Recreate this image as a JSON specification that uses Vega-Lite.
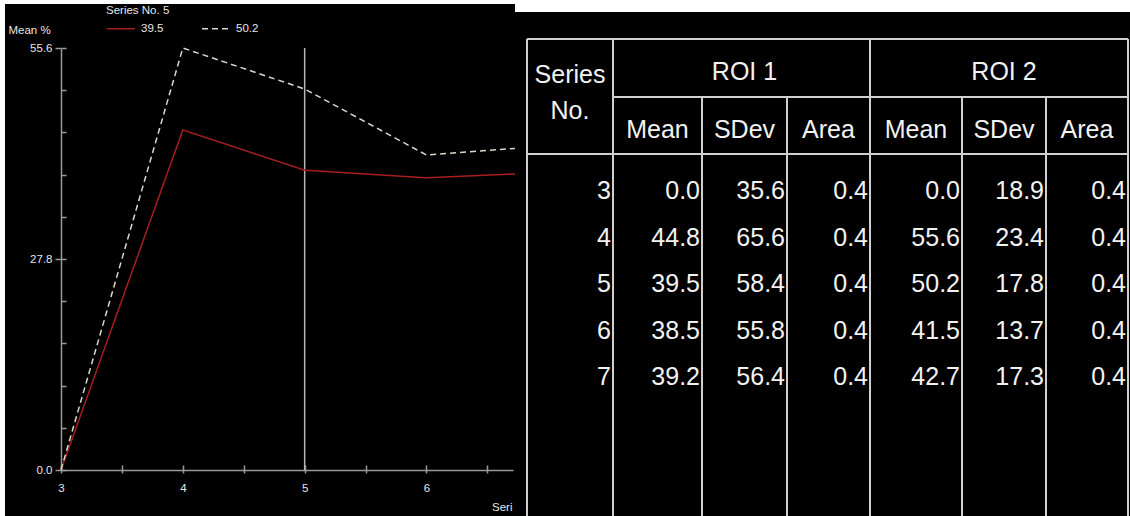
{
  "$schema": "https://vega.github.io/schema/vega-lite/v6.json",
  "background": "white",
  "padding": {"left": 5, "top": 4, "right": 0, "bottom": 0},
  "spacing": 0,
  "config": {
    "view": {"fill": "black", "stroke": null},
    "axis": {"labelFont": "Liberation Sans", "titleFont": "Liberation Sans", "grid": false},
    "legend": {"labelFont": "Liberation Sans", "titleFont": "Liberation Sans"},
    "text": {"font": "Nimbus Sans Narrow, Arial Narrow, Liberation Sans, sans-serif", "fontSize": 25, "color": "#f2f2f2", "baseline": "middle"}
  },
  "datasets": {
    "stats": [
      {"series": 3, "roi1_mean": 0.0, "roi1_sdev": 35.6, "roi1_area": 0.4, "roi2_mean": 0.0, "roi2_sdev": 18.9, "roi2_area": 0.4},
      {"series": 4, "roi1_mean": 44.8, "roi1_sdev": 65.6, "roi1_area": 0.4, "roi2_mean": 55.6, "roi2_sdev": 23.4, "roi2_area": 0.4},
      {"series": 5, "roi1_mean": 39.5, "roi1_sdev": 58.4, "roi1_area": 0.4, "roi2_mean": 50.2, "roi2_sdev": 17.8, "roi2_area": 0.4},
      {"series": 6, "roi1_mean": 38.5, "roi1_sdev": 55.8, "roi1_area": 0.4, "roi2_mean": 41.5, "roi2_sdev": 13.7, "roi2_area": 0.4},
      {"series": 7, "roi1_mean": 39.2, "roi1_sdev": 56.4, "roi1_area": 0.4, "roi2_mean": 42.7, "roi2_sdev": 17.3, "roi2_area": 0.4}
    ],
    "tableVLines": [
      {"edge": 0, "top": 0}, {"edge": 1, "top": 0}, {"edge": 2, "top": 1}, {"edge": 3, "top": 1},
      {"edge": 4, "top": 0}, {"edge": 5, "top": 1}, {"edge": 6, "top": 1}, {"edge": 7, "top": 0}
    ],
    "tableHLines": [
      {"level": 0, "from": 0}, {"level": 1, "from": 1}, {"level": 2, "from": 0}
    ],
    "tableHeaders": [
      {"label": "Series\nNo.", "col": 0.5, "level": 0.55},
      {"label": "ROI 1", "col": 2.5, "level": 0.5},
      {"label": "ROI 2", "col": 5.5, "level": 0.5},
      {"label": "Mean", "col": 1.5, "level": 1.5},
      {"label": "SDev", "col": 2.5, "level": 1.5},
      {"label": "Area", "col": 3.5, "level": 1.5},
      {"label": "Mean", "col": 4.5, "level": 1.5},
      {"label": "SDev", "col": 5.5, "level": 1.5},
      {"label": "Area", "col": 6.5, "level": 1.5}
    ]
  },
  "hconcat": [
    {
      "width": 510,
      "height": 512,
      "data": {"name": "stats"},
      "resolve": {"axis": {"x": "independent", "y": "independent"}},
      "layer": [
        {
          "transform": [{"filter": "datum.series == 5"}],
          "mark": {"type": "rule", "color": "#b4b4b4", "strokeWidth": 1.5},
          "encoding": {
            "x": {
              "field": "series", "type": "quantitative",
              "scale": {"domain": [3, 6.71], "range": [56, 508], "nice": false, "zero": false},
              "axis": {
                "orient": "bottom", "offset": -46, "values": [3, 3.5, 4, 4.5, 5, 5.5, 6, 6.5],
                "tickSize": -5, "tickColor": "#9a9a9a", "tickWidth": 1.5,
                "labels": false, "domain": false, "title": null
              }
            },
            "y": {
              "datum": 0, "type": "quantitative",
              "scale": {"domain": [0, 55.6], "range": [466, 44], "nice": false, "zero": false},
              "axis": {
                "orient": "left", "offset": -56,
                "values": [0, 5.56, 11.12, 16.68, 22.24, 27.8, 33.36, 38.92, 44.48, 50.04, 55.6],
                "tickSize": -5, "tickColor": "#9a9a9a", "tickWidth": 1.5,
                "labels": false, "domain": false, "title": null
              }
            },
            "y2": {"datum": 55.6}
          }
        },
        {
          "transform": [{"fold": ["roi1_mean", "roi2_mean"], "as": ["roi", "mean"]}],
          "mark": {"type": "line", "clip": true, "strokeWidth": 1.5},
          "encoding": {
            "x": {
              "field": "series", "type": "quantitative",
              "scale": {"domain": [3, 6.71], "range": [56, 508], "nice": false, "zero": false},
              "axis": {
                "orient": "bottom", "offset": -46, "values": [3, 3.5, 4, 4.5, 5, 5.5, 6, 6.5],
                "labelExpr": "datum.value % 1 === 0 ? format(datum.value, 'd') : ''",
                "tickSize": 3, "tickColor": "#9a9a9a", "tickWidth": 1.5,
                "domainColor": "#9a9a9a", "domainWidth": 1.5,
                "labelColor": "#e6e6e6", "labelFontSize": 11.5, "labelPadding": 9,
                "labelFlush": false, "labelOverlap": false, "labelBound": false,
                "title": "Seri", "titleX": 507, "titleY": 37, "titleAlign": "right", "titleBaseline": "middle",
                "titleColor": "#e6e6e6", "titleFontSize": 11.5, "titleFontWeight": "normal"
              }
            },
            "y": {
              "field": "mean", "type": "quantitative",
              "scale": {"domain": [0, 55.6], "range": [466, 44], "nice": false, "zero": false},
              "axis": {
                "orient": "left", "offset": -56, "values": [0, 27.8, 55.6], "format": ".1f",
                "tickSize": 6, "tickColor": "#9a9a9a", "tickWidth": 1.5,
                "domainColor": "#9a9a9a", "domainWidth": 1.5,
                "labelColor": "#e6e6e6", "labelFontSize": 11.5, "labelPadding": 3,
                "labelFlush": false, "labelOverlap": false, "labelBound": false,
                "title": "Mean %", "titleAngle": 0, "titleX": -53, "titleY": 26,
                "titleAlign": "left", "titleBaseline": "middle",
                "titleColor": "#e6e6e6", "titleFontSize": 11.5, "titleFontWeight": "normal"
              }
            },
            "color": {
              "field": "roi", "type": "nominal",
              "scale": {"domain": ["roi1_mean", "roi2_mean"], "range": ["#a51e1e", "#d9d8c8"]},
              "legend": {
                "orient": "none", "legendX": 101, "legendY": 1, "direction": "horizontal", "padding": 0,
                "title": "Series No. 5", "titleFontSize": 11.5, "titleFontWeight": "normal", "titleColor": "#e6e6e6", "titlePadding": -3,
                "labelExpr": "datum.label == 'roi1_mean' ? '39.5' : '50.2'",
                "labelColor": "#e6e6e6", "labelFontSize": 11.5, "labelOffset": 5,
                "symbolType": "stroke", "symbolSize": 784, "symbolStrokeWidth": 1.5, "columnPadding": 35
              }
            },
            "strokeDash": {
              "field": "roi", "type": "nominal",
              "scale": {"domain": ["roi1_mean", "roi2_mean"], "range": [[1, 0], [6, 4]]},
              "legend": {
                "orient": "none", "legendX": 101, "legendY": 1, "direction": "horizontal", "padding": 0,
                "title": "Series No. 5", "titleFontSize": 11.5, "titleFontWeight": "normal", "titleColor": "#e6e6e6", "titlePadding": -3,
                "labelExpr": "datum.label == 'roi1_mean' ? '39.5' : '50.2'",
                "labelColor": "#e6e6e6", "labelFontSize": 11.5, "labelOffset": 5,
                "symbolType": "stroke", "symbolSize": 784, "symbolStrokeWidth": 1.5, "columnPadding": 35
              }
            }
          }
        }
      ]
    },
    {
      "width": 615,
      "height": 512,
      "layer": [
        {
          "data": {"values": [{"band": "top"}]},
          "mark": {"type": "rect", "color": "white", "clip": true},
          "encoding": {
            "x": {"datum": -1, "type": "quantitative", "scale": {"domain": [0, 1, 2, 3, 4, 5, 6, 7], "range": [12, 98, 187, 272, 355, 447, 531, 613], "nice": false, "zero": false}, "axis": null},
            "x2": {"datum": 8},
            "y": {"datum": -3, "type": "quantitative", "scale": {"domain": [-1, 0, 1, 2, 3, 7], "range": [8, 35, 93, 150, 187, 373], "nice": false, "zero": false}, "axis": null},
            "y2": {"datum": -1}
          }
        },
        {
          "data": {"name": "tableVLines"},
          "mark": {"type": "rule", "color": "#cfcfcf", "strokeWidth": 2, "clip": true},
          "encoding": {
            "x": {"field": "edge", "type": "quantitative", "scale": {"domain": [0, 1, 2, 3, 4, 5, 6, 7], "range": [12, 98, 187, 272, 355, 447, 531, 613], "nice": false, "zero": false}, "axis": null},
            "y": {"field": "top", "type": "quantitative", "scale": {"domain": [-1, 0, 1, 2, 3, 7], "range": [8, 35, 93, 150, 187, 373], "nice": false, "zero": false}, "axis": null},
            "y2": {"datum": 10}
          }
        },
        {
          "data": {"name": "tableHLines"},
          "mark": {"type": "rule", "color": "#cfcfcf", "strokeWidth": 2, "clip": true},
          "encoding": {
            "x": {"field": "from", "type": "quantitative", "scale": {"domain": [0, 1, 2, 3, 4, 5, 6, 7], "range": [12, 98, 187, 272, 355, 447, 531, 613], "nice": false, "zero": false}, "axis": null},
            "x2": {"datum": 7},
            "y": {"field": "level", "type": "quantitative", "scale": {"domain": [-1, 0, 1, 2, 3, 7], "range": [8, 35, 93, 150, 187, 373], "nice": false, "zero": false}, "axis": null}
          }
        },
        {
          "data": {"name": "tableHeaders"},
          "mark": {"type": "text", "align": "center", "dy": 4, "lineBreak": "\n", "lineHeight": 36},
          "encoding": {
            "x": {"field": "col", "type": "quantitative", "scale": {"domain": [0, 1, 2, 3, 4, 5, 6, 7], "range": [12, 98, 187, 272, 355, 447, 531, 613], "nice": false, "zero": false}, "axis": null},
            "y": {"field": "level", "type": "quantitative", "scale": {"domain": [-1, 0, 1, 2, 3, 7], "range": [8, 35, 93, 150, 187, 373], "nice": false, "zero": false}, "axis": null},
            "text": {"field": "label", "type": "nominal"}
          }
        },
        {
          "data": {"name": "stats"},
          "mark": {"type": "text", "align": "right", "dx": -2},
          "encoding": {
            "x": {"datum": 1, "type": "quantitative", "scale": {"domain": [0, 1, 2, 3, 4, 5, 6, 7], "range": [12, 98, 187, 272, 355, 447, 531, 613], "nice": false, "zero": false}, "axis": null},
            "y": {"field": "series", "type": "quantitative", "scale": {"domain": [-1, 0, 1, 2, 3, 7], "range": [8, 35, 93, 150, 187, 373], "nice": false, "zero": false}, "axis": null},
            "text": {"field": "series", "type": "quantitative", "format": "d"}
          }
        },
        {
          "data": {"name": "stats"},
          "mark": {"type": "text", "align": "right", "dx": -2},
          "encoding": {
            "x": {"datum": 2, "type": "quantitative", "scale": {"domain": [0, 1, 2, 3, 4, 5, 6, 7], "range": [12, 98, 187, 272, 355, 447, 531, 613], "nice": false, "zero": false}, "axis": null},
            "y": {"field": "series", "type": "quantitative", "scale": {"domain": [-1, 0, 1, 2, 3, 7], "range": [8, 35, 93, 150, 187, 373], "nice": false, "zero": false}, "axis": null},
            "text": {"field": "roi1_mean", "type": "quantitative", "format": ".1f"}
          }
        },
        {
          "data": {"name": "stats"},
          "mark": {"type": "text", "align": "right", "dx": -2},
          "encoding": {
            "x": {"datum": 3, "type": "quantitative", "scale": {"domain": [0, 1, 2, 3, 4, 5, 6, 7], "range": [12, 98, 187, 272, 355, 447, 531, 613], "nice": false, "zero": false}, "axis": null},
            "y": {"field": "series", "type": "quantitative", "scale": {"domain": [-1, 0, 1, 2, 3, 7], "range": [8, 35, 93, 150, 187, 373], "nice": false, "zero": false}, "axis": null},
            "text": {"field": "roi1_sdev", "type": "quantitative", "format": ".1f"}
          }
        },
        {
          "data": {"name": "stats"},
          "mark": {"type": "text", "align": "right", "dx": -2},
          "encoding": {
            "x": {"datum": 4, "type": "quantitative", "scale": {"domain": [0, 1, 2, 3, 4, 5, 6, 7], "range": [12, 98, 187, 272, 355, 447, 531, 613], "nice": false, "zero": false}, "axis": null},
            "y": {"field": "series", "type": "quantitative", "scale": {"domain": [-1, 0, 1, 2, 3, 7], "range": [8, 35, 93, 150, 187, 373], "nice": false, "zero": false}, "axis": null},
            "text": {"field": "roi1_area", "type": "quantitative", "format": ".1f"}
          }
        },
        {
          "data": {"name": "stats"},
          "mark": {"type": "text", "align": "right", "dx": -2},
          "encoding": {
            "x": {"datum": 5, "type": "quantitative", "scale": {"domain": [0, 1, 2, 3, 4, 5, 6, 7], "range": [12, 98, 187, 272, 355, 447, 531, 613], "nice": false, "zero": false}, "axis": null},
            "y": {"field": "series", "type": "quantitative", "scale": {"domain": [-1, 0, 1, 2, 3, 7], "range": [8, 35, 93, 150, 187, 373], "nice": false, "zero": false}, "axis": null},
            "text": {"field": "roi2_mean", "type": "quantitative", "format": ".1f"}
          }
        },
        {
          "data": {"name": "stats"},
          "mark": {"type": "text", "align": "right", "dx": -2},
          "encoding": {
            "x": {"datum": 6, "type": "quantitative", "scale": {"domain": [0, 1, 2, 3, 4, 5, 6, 7], "range": [12, 98, 187, 272, 355, 447, 531, 613], "nice": false, "zero": false}, "axis": null},
            "y": {"field": "series", "type": "quantitative", "scale": {"domain": [-1, 0, 1, 2, 3, 7], "range": [8, 35, 93, 150, 187, 373], "nice": false, "zero": false}, "axis": null},
            "text": {"field": "roi2_sdev", "type": "quantitative", "format": ".1f"}
          }
        },
        {
          "data": {"name": "stats"},
          "mark": {"type": "text", "align": "right", "dx": -2},
          "encoding": {
            "x": {"datum": 7, "type": "quantitative", "scale": {"domain": [0, 1, 2, 3, 4, 5, 6, 7], "range": [12, 98, 187, 272, 355, 447, 531, 613], "nice": false, "zero": false}, "axis": null},
            "y": {"field": "series", "type": "quantitative", "scale": {"domain": [-1, 0, 1, 2, 3, 7], "range": [8, 35, 93, 150, 187, 373], "nice": false, "zero": false}, "axis": null},
            "text": {"field": "roi2_area", "type": "quantitative", "format": ".1f"}
          }
        }
      ]
    }
  ]
}
